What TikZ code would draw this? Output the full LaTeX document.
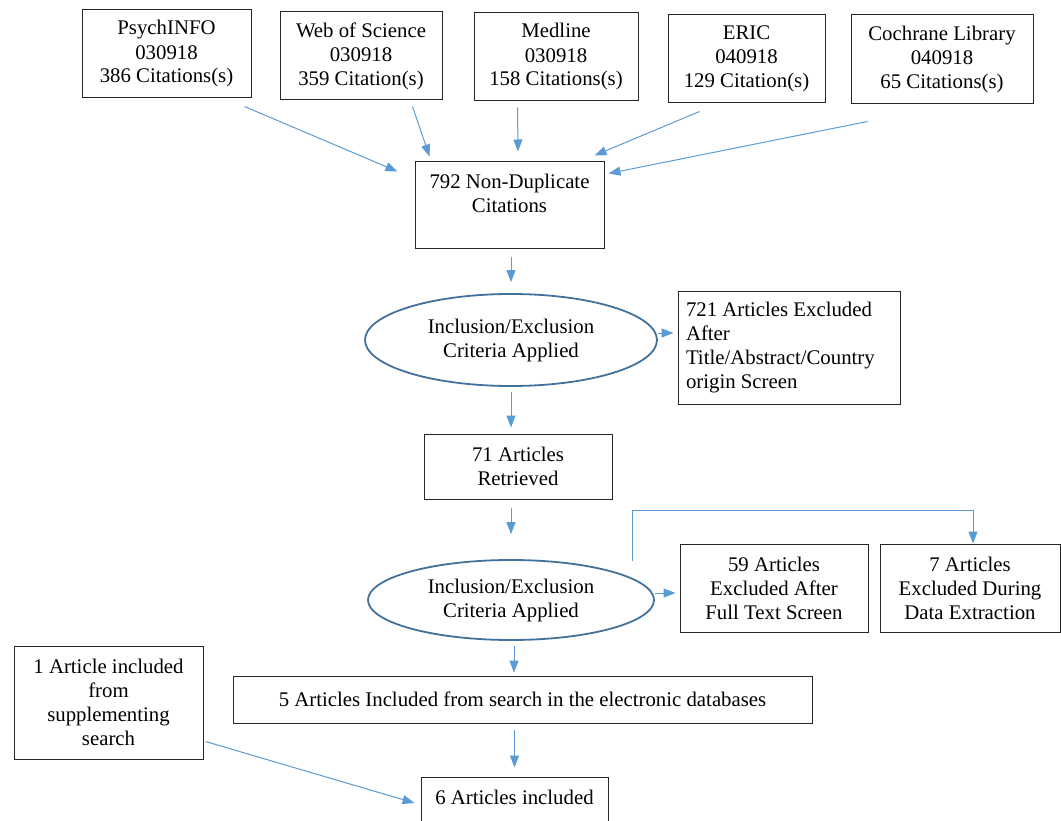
\documentclass[tikz,border=0pt]{standalone}
\usepackage{fontspec}
\setmainfont{Liberation Serif}
\usetikzlibrary{arrows.meta,shapes.geometric}

\definecolor{fleche}{HTML}{5B9BD5}
\definecolor{contour}{HTML}{41719C}

\tikzset{
    texte/.style={font=\fontsize{20.8}{24}\selectfont, align=center, inner sep=0pt},
    boite/.style={texte, draw=black!85, line width=1pt},
    critere/.style={texte, ellipse, draw=contour, line width=1.8pt},
    fl/.style={draw=fleche, line width=1pt, -{Triangle[length=12pt,width=9pt]}}
}

\begin{document}
\begin{tikzpicture}[x=1pt,y=-1pt]
    \clip (0,0) rectangle (1061,821);
    % === SOURCES ===
    \node[boite, minimum width=169pt, minimum height=88pt] (psych) at (166.5,54) {PsychINFO\\030918\\386 Citations(s)};
    \node[boite, minimum width=162pt, minimum height=88pt] (wos) at (361,56) {Web of Science\\030918\\359 Citation(s)};
    \node[boite, minimum width=164pt, minimum height=88pt] (medline) at (556,57) {Medline\\030918\\158 Citations(s)};
    \node[boite, minimum width=157pt, minimum height=88pt] (eric) at (746.5,59) {ERIC\\040918\\129 Citation(s)};
    \node[boite, minimum width=182pt, minimum height=89pt] (cochrane) at (942,59.5) {Cochrane Library\\040918\\65 Citations(s)};

    % === TRI ===
    \node[boite, minimum width=189pt, minimum height=87pt] (nondup) at (509.5,205.5) {792 Non-Duplicate\\Citations\\\mbox{}};
    \node[critere, minimum width=292pt, minimum height=92pt] (crit1) at (511,340) {Inclusion/Exclusion\\Criteria Applied};
    \node[boite, align=flush left, text width=206pt, minimum height=112pt, inner xsep=8pt] (excl1) at (789,348) {721 Articles Excluded\\After\\Title/Abstract/Country\\origin Screen};
    \node[boite, minimum width=188pt, minimum height=65pt] (retr) at (518,466.5) {71 Articles\\Retrieved};
    \node[critere, minimum width=286pt, minimum height=80pt] (crit2) at (511,600) {Inclusion/Exclusion\\Criteria Applied};
    \node[boite, minimum width=188pt, minimum height=88pt] (excl2) at (774,588) {59 Articles\\Excluded After\\Full Text Screen};
    \node[boite, minimum width=180pt, minimum height=88pt] (excl3) at (970,588) {7 Articles\\Excluded During\\Data Extraction};

    % === INCLUSION ===
    \node[boite, minimum width=579pt, minimum height=47pt] (incl) at (522.5,699.5) {5 Articles Included from search in the electronic databases};
    \node[boite, minimum width=189pt, minimum height=113pt] (supp) at (108.5,702.5) {1 Article included\\from\\supplementing\\search};
    \node[boite, minimum width=187pt, minimum height=65pt] (final) at (514.5,809.5) {6 Articles included\\\mbox{}};

    % Flèches
    \draw[fl] ([xshift=-7pt,yshift=-8pt]psych.south east) -- ([xshift=-17pt,yshift=-10pt]nondup.north west);
    \draw[fl] ([xshift=-30pt,yshift=-6pt]wos.south east) -- ([xshift=15pt,yshift=5pt]nondup.north west);
    \draw[fl] ([xshift=44pt,yshift=-6pt]medline.south west) -- ([xshift=8.5pt,yshift=10pt]nondup.north);
    \draw[fl] ([xshift=32pt,yshift=-8pt]eric.south west) -- ([xshift=-10pt,yshift=6pt]nondup.north east);
    \draw[fl] ([xshift=17pt,yshift=-17pt]cochrane.south west) -- ([xshift=4pt,yshift=-12pt]nondup.north east);
    \draw[fl, shorten <=8pt, shorten >=11pt] (nondup.south -| crit1.north) -- (crit1.north);
    \draw[fl, shorten >=4pt] ([yshift=7pt]crit1.east) -- ([yshift=7pt]crit1.east -| excl1.west);
    \draw[fl, shorten <=5pt, shorten >=6pt] (crit1.south) -- (crit1.south |- retr.north);
    \draw[fl, shorten <=8pt, shorten >=25pt] (retr.south -| crit2.north) -- (crit2.north);
    \draw[fl, shorten >=4pt] ([yshift=7pt]crit2.east) -- ([yshift=7pt]crit2.east -| excl2.west);
    \draw[fl] ([xshift=121pt,yshift=-2pt]crit2.north) |- ([xshift=3pt,yshift=33pt]excl3.north) -- ([xshift=3pt]excl3.north);
    \draw[fl, shorten <=5pt, shorten >=3pt] ([xshift=3pt]crit2.south) -- ([xshift=3pt]crit2.south |- incl.north);
    \draw[fl, shorten <=6pt, shorten >=9pt] (incl.south -| final.north) -- (final.north);
    \draw[fl] ([xshift=2pt,yshift=18pt]supp.south east) -- ([xshift=-6pt,yshift=6.5pt]final.west);
\end{tikzpicture}
\end{document}
